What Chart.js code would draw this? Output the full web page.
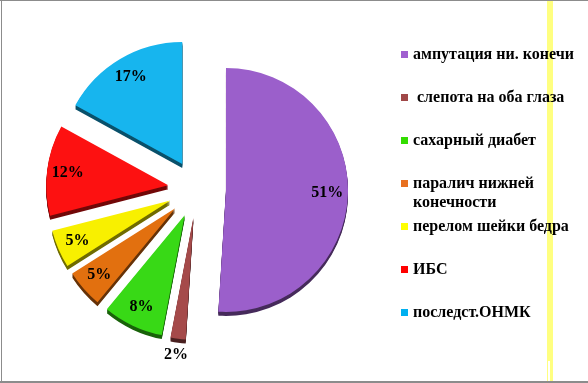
<!DOCTYPE html>
<html>
<head>
<meta charset="utf-8">
<script src="https://cdn.jsdelivr.net/npm/chart.js@4.4.0/dist/chart.umd.min.js"></script>
<style>
  html, body { margin: 0; padding: 0; background: #fff; }
  canvas { display: block; }
</style>
</head>
<body>
<canvas id="pie" width="588" height="383"></canvas>
<script>
/* ===== DATA ===== */
const CATEGORIES = [
  'ампутация ни. конечи',
  ' слепота на оба глаза',
  'сахарный диабет',
  ['паралич нижней', 'конечности'],
  'перелом шейки бедра',
  'ИБС',
  'последст.ОНМК'
];
const SHARES = [51, 2, 8, 5, 5, 12, 17];   // %

/* ===== LOOK ===== */
const SLICE_COLORS  = ['#9b5fcb', '#a54a4a', '#38d916', '#e2700f', '#f8f000', '#fd1111', '#17b5ee'];
const LEGEND_COLORS = ['#a060d0', '#a04848', '#33dd00', '#e87020', '#ffff00', '#ff0000', '#00b0f0'];
const EXPLODE = 29;   // px every slice is pulled away from the centre
const DEPTH   = 4;    // px of the fake 3D side
const FONT    = "'Liberation Serif', 'Times New Roman', serif";

/* ===== HELPERS ===== */
const q = sel => document.querySelector(sel);

function shade(hex, k) {
  const n = parseInt(hex.slice(1), 16);
  const c = [n >> 16, (n >> 8) & 255, n & 255].map(v => Math.round(v * k));
  return `rgb(${c.join(',')})`;
}
const midDir = arc => {
  const a = (arc.startAngle + arc.endAngle) / 2;
  return [Math.cos(a), Math.sin(a)];
};

// white page, grey frame and the yellow stripe at the right
const frame = {
  id: 'frame',
  beforeDraw(chart) {
    const ctx = chart.ctx, w = chart.width, h = chart.height;
    ctx.save();
    ctx.fillStyle = '#fff';
    ctx.fillRect(0, 0, w, h);
    ctx.fillStyle = '#ffff80';
    ctx.fillRect(547, 0, 6, h);
    ctx.fillStyle = '#fff';
    ctx.fillRect(548, 361, 2, 20);
    ctx.fillStyle = '#8c8c8c';
    ctx.fillRect(1, 0, 1, h);
    ctx.fillRect(0, 0, w, 1);
    ctx.fillRect(0, 381, w, 2);
    ctx.restore();
  }
};

// exploded pie, each slice with a darker "side" under it
const exploded = {
  id: 'exploded',
  beforeDatasetDraw(chart, args) {
    const ctx = chart.ctx;
    args.meta.data.forEach((arc, i) => {
      const [dx, dy] = midDir(arc);
      const base = arc.options;
      ctx.save();
      ctx.translate(dx * EXPLODE, dy * EXPLODE);
      arc.options = Object.assign({}, base, {backgroundColor: shade(SLICE_COLORS[i], 0.45)});
      for (let k = DEPTH; k > 0; k--) {
        ctx.save();
        ctx.translate(0, k);
        arc.draw(ctx);
        ctx.restore();
      }
      arc.options = base;
      arc.draw(ctx);
      ctx.restore();
    });
    return false;
  },
  afterDraw(chart) {
    const ctx = chart.ctx;
    const meta = chart.getDatasetMeta(0);
    ctx.save();
    // percentage labels
    ctx.font = `bold 16px ${FONT}`;
    ctx.fillStyle = '#000';
    ctx.textAlign = 'center';
    ctx.textBaseline = 'middle';
    meta.data.forEach((arc, i) => {
      const [dx, dy] = midDir(arc);
      const r = EXPLODE + arc.outerRadius * (SHARES[i] < 3 ? 1.13 : 0.83);
      ctx.fillText(SHARES[i] + '%', arc.x + dx * r, arc.y + dy * r);
    });
    // legend
    ctx.font = `bold 16px ${FONT}`;
    ctx.textAlign = 'left';
    ctx.textBaseline = 'alphabetic';
    CATEGORIES.forEach((lab, i) => {
      const top = 51 + i * 43;
      ctx.fillStyle = LEGEND_COLORS[i];
      ctx.fillRect(401, top, 7, 7);
      ctx.fillStyle = '#000';
      [].concat(lab).forEach((line, j) => ctx.fillText(line, 413, top + 8 + j * 19));
    });
    ctx.restore();
  }
};

/* ===== MAIN ===== */
new Chart(q('#pie'), {
  type: 'pie',
  data: {
    labels: CATEGORIES,
    datasets: [{
      data: SHARES,
      backgroundColor: SLICE_COLORS,
      borderWidth: 0,
      radius: 122
    }]
  },
  options: {
    responsive: false,
    animation: false,
    layout: {padding: {left: 0, right: 194, top: 0, bottom: 5}},
    plugins: {legend: {display: false}, tooltip: {enabled: false}}
  },
  plugins: [frame, exploded]
});
</script>
</body>
</html>
